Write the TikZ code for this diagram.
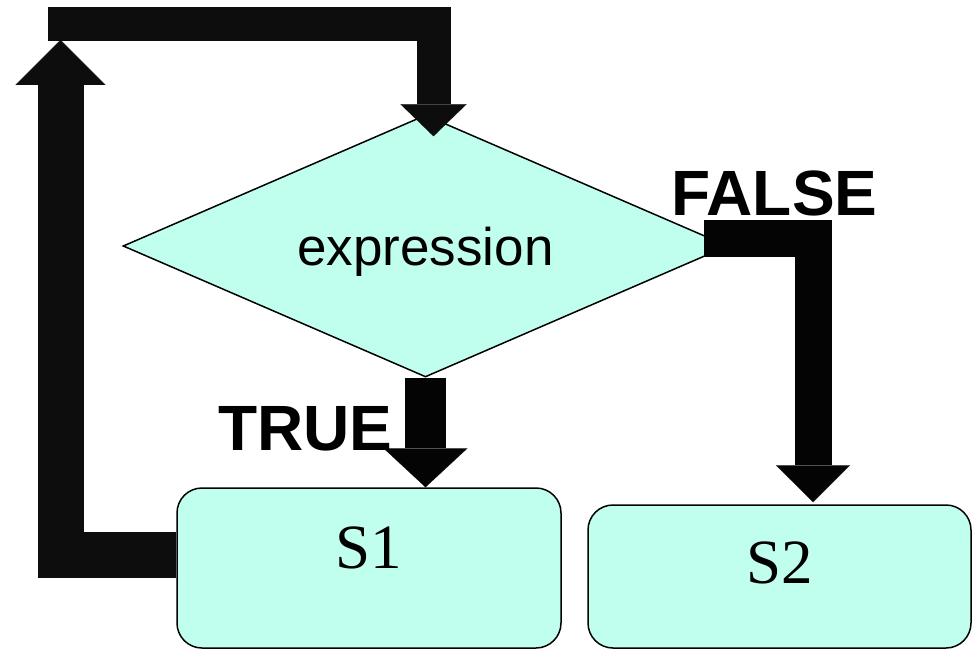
\documentclass[tikz,border=0pt]{standalone}
\usepackage{fontspec}
\setmainfont{Liberation Serif}
\newfontfamily\labelfont{Liberation Sans}
\usetikzlibrary{shapes.geometric,arrows.meta,calc}

\definecolor{stmtfill}{RGB}{192,255,238}
\definecolor{loopblack}{RGB}{13,13,13}
\definecolor{branchblack}{RGB}{4,4,4}

\tikzset{
  decision/.style={diamond, aspect=2.31, draw=black, line width=1.5pt, fill=stmtfill,
    inner sep=0pt, minimum width=605pt, minimum height=262pt,
    font=\labelfont\fontsize{53}{60}\selectfont, text height=38pt, text depth=0pt},
  stmtbox/.style={rectangle, rounded corners=25pt, draw=black, line width=1.5pt,
    fill=stmtfill, inner sep=0pt, font=\fontsize{63}{70}\selectfont},
  blockarrow/.style={line cap=butt, line join=miter},
  branchlabel/.style={font=\labelfont\bfseries\fontsize{64}{72}\selectfont,
    inner sep=0pt, anchor=base west},
}

\begin{document}
\begin{tikzpicture}[x=1pt,y=-1pt]
  \useasboundingbox (0,0) rectangle (972,650);

  % statements and the test
  \node[decision] (test) at (425.5,246) {expression};
  \node[stmtbox, minimum width=384pt, minimum height=160pt,
        text height=0pt, text depth=0pt] (s1) at (369,568) {S1};
  \node[stmtbox, minimum width=383pt, minimum height=143pt,
        text height=13pt, text depth=0pt] (s2) at (779.5,576.5) {S2};

  % free ends of the loop-back path
  \coordinate (loopup) at (60.5,40);
  \coordinate (loopstart) at (48,24.5);

  % loop back: from S1 up the left side
  \draw[blockarrow, loopblack, line width=46pt,
        -{Triangle[length=45pt,width=90pt,line width=0.1pt]}]
    ($(s1.west)+(0,-13)$) -| (loopup);
  % loop back: across the top and down into the test
  \draw[blockarrow, loopblack, line width=34pt,
        -{Triangle[length=32pt,width=66pt,line width=0.1pt]}]
    (loopstart) -| ($(test.north)+(8,22)$);

  % TRUE branch
  \draw[blockarrow, branchblack, line width=41pt,
        -{Triangle[length=39pt,width=84pt,line width=0.1pt]}]
    (test.south) -- (test.south |- s1.north);
  % FALSE branch
  \draw[blockarrow, branchblack, line width=37pt,
        -{Triangle[length=37pt,width=74pt,line width=0.1pt]}]
    ($(test.east)+(-25,-8)$) -| ($(s2.north)+(33.5,-2)$);

  % branch labels
  \node[branchlabel] (truelbl) at (218,450) {TRUE};
  \node[branchlabel] (falselbl) at (671,215) {FALSE};
\end{tikzpicture}
\end{document}
